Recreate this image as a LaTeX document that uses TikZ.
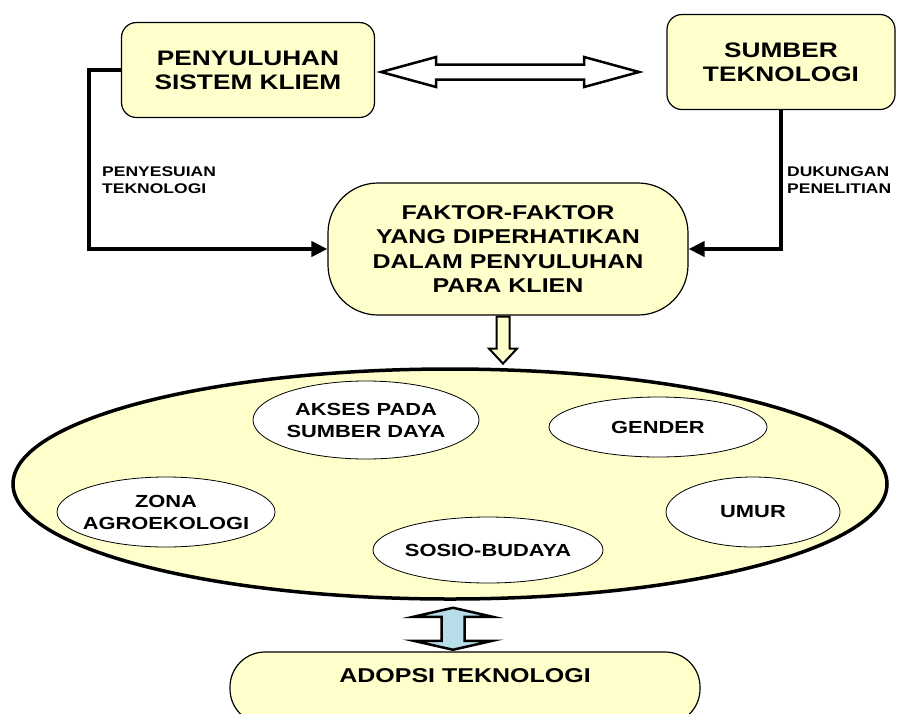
\documentclass[tikz,border=0pt]{standalone}
\usepackage{fontspec}
\setmainfont[FakeStretch=1.25]{Liberation Sans}
\usetikzlibrary{arrows.meta, shapes.geometric, calc}
\definecolor{BoxYellow}{RGB}{255,255,204}
\definecolor{ArrowBlue}{RGB}{183,222,232}

\begin{document}
\begin{tikzpicture}[x=1pt,y=-1pt,
    topbox/.style={draw,line width=1.2pt,fill=BoxYellow,rounded corners=15pt,
                   align=center,font=\fontsize{21}{24}\selectfont\bfseries,inner sep=0pt},
    factbox/.style={topbox,rounded corners=50pt,font=\fontsize{20}{24.5}\selectfont\bfseries},
    setellipse/.style={draw,ellipse,line width=3.5pt,fill=BoxYellow,inner sep=0pt},
    factorellipse/.style={draw,ellipse,line width=0.8pt,fill=white,inner sep=0pt},
    factortext/.style={align=center,font=\fontsize{17.5}{22}\selectfont\bfseries},
    connlabel/.style={anchor=west,align=left,inner sep=0pt,
                      font=\fontsize{14}{17}\selectfont\bfseries},
    conn/.style={-{Triangle[length=16pt,width=15pt]},line width=4.5pt},
    fat/.style={draw,line width=2.5pt,line join=miter}
  ]
    \useasboundingbox (0,0) rectangle (897,713);
    \node[topbox,minimum width=253pt,minimum height=95pt] (penyuluhan) at (248,70)
      {PENYULUHAN\\SISTEM KLIEM};
    \node[topbox,minimum width=228pt,minimum height=95pt] (sumber) at (781,62)
      {SUMBER\\TEKNOLOGI};
    \node[factbox,minimum width=360pt,minimum height=132pt] (faktor) at (508,249)
      {FAKTOR-FAKTOR\\YANG DIPERHATIKAN\\DALAM PENYULUHAN\\PARA KLIEN};
    \node[setellipse,minimum width=874pt,minimum height=230pt] (faktorset) at (450,484) {};
    \node[factorellipse,minimum width=226pt,minimum height=78pt] (akses) at (366,420) {};
    \node[factortext] (aksestext) at (akses) {AKSES PADA\\SUMBER DAYA};
    \node[factorellipse,minimum width=218pt,minimum height=60pt] (gender) at (658,427) {};
    \node[factortext] (gendertext) at (gender) {GENDER};
    \node[factorellipse,minimum width=218pt,minimum height=70pt] (zona) at (166,512) {};
    \node[factortext] (zonatext) at (zona) {ZONA\\AGROEKOLOGI};
    \node[factorellipse,minimum width=230pt,minimum height=66pt] (sosio) at (488,550) {};
    \node[factortext] (sosiotext) at (sosio) {SOSIO-BUDAYA};
    \node[factorellipse,minimum width=174pt,minimum height=70pt] (umur) at (753,512) {};
    \node[factortext] (umurtext) at (umur) {UMUR};
    \node[topbox,rounded corners=35pt,minimum width=470pt,minimum height=72pt] (adopsi)
      at (465,688) {};
    \node[font=\fontsize{20}{24}\selectfont\bfseries] (adopsitext) at (465,676)
      {ADOPSI TEKNOLOGI};
    % connectors into the factor box
    \draw[conn] (penyuluhan.west) -- ++(-32,0) |- (faktor.west);
    \draw[conn] (sumber.south) |- (faktor.east);
    \node[connlabel] (penyesuian) at (102,180) {PENYESUIAN\\TEKNOLOGI};
    \node[connlabel] (dukungan) at (787,180) {DUKUNGAN\\PENELITIAN};
    % block arrows
    \draw[fat,fill=white] ($(penyuluhan.east)+(6,2)$) -- ++(55,-15) -- ++(0,7.5)
      -- ++(148,0) -- ++(0,-7.5) -- ++(55,15) -- ++(-55,15) -- ++(0,-7.5)
      -- ++(-148,0) -- ++(0,7.5) -- cycle;
    \draw[fat,fill=BoxYellow,line width=2pt] ($(faktor.south)+(-11.5,1)$) -- ++(13,0)
      -- ++(0,32) -- ++(7.5,0) -- ++(-14,15) -- ++(-14,-15) -- ++(7.5,0) -- cycle;
    \draw[fat,fill=ArrowBlue] ($(faktorset.south)+(3,7)$) -- ++(39.5,9) -- ++(-28,0)
      -- ++(0,24) -- ++(28,0) -- ++(-39.5,9) -- ++(-39.5,-9) -- ++(28,0)
      -- ++(0,-24) -- ++(-28,0) -- cycle;
  \end{tikzpicture}
\end{document}
